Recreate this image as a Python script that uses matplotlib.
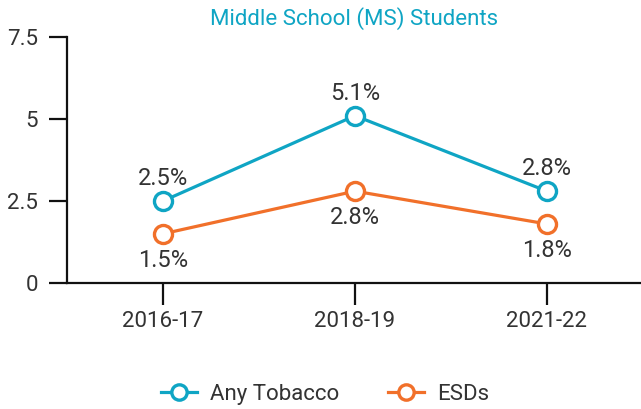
import matplotlib.pyplot as plt
import numpy as np

plt.rcParams['font.family'] = ['Roboto', 'DejaVu Sans']

years = ['2016-17', '2018-19', '2021-22']
any_tobacco = [2.5, 5.1, 2.8]
esds = [1.5, 2.8, 1.8]
yticks = [0, 2.5, 5, 7.5]
ytick_labels = ['0', '2.5', '5', '7.5']

teal = '#0fa5c4'
orange = '#f1702a'
txt = '#333333'

fig = plt.figure(figsize=(6.41, 4.09), dpi=100)
ax = fig.add_axes([67 / 641, 126 / 409, 574 / 641, 246 / 409])

x = np.arange(len(years))
ax.plot(x, any_tobacco, color=teal, lw=2.3, marker='o', ms=13, mfc='white',
        mec=teal, mew=2.4, label='Any Tobacco', zorder=3, clip_on=False)
ax.plot(x, esds, color=orange, lw=2.3, marker='o', ms=13, mfc='white',
        mec=orange, mew=2.4, label='ESDs', zorder=3, clip_on=False)

for i, v in enumerate(any_tobacco):
    ax.annotate(f'{v}%', (x[i], v), xytext=(0, 8), textcoords='offset points',
                ha='center', va='bottom', fontsize=17, color=txt)
for i, v in enumerate(esds):
    ax.annotate(f'{v}%', (x[i], v), xytext=(0, -11), textcoords='offset points',
                ha='center', va='top', fontsize=17, color=txt)

ax.set_xlim(-0.5, 2.49)
ax.set_ylim(0, 7.5)
ax.set_xticks(x)
ax.set_xticklabels(years)
ax.set_yticks(yticks)
ax.set_yticklabels(ytick_labels)

for s in ['top', 'right']:
    ax.spines[s].set_visible(False)
for s in ['left', 'bottom']:
    ax.spines[s].set_linewidth(1.6)
    ax.spines[s].set_color('#111111')

ax.tick_params(axis='y', length=13, width=1.6, pad=8, labelsize=16,
               labelcolor=txt, color='#111111')
ax.tick_params(axis='x', length=16, width=1.6, pad=4, labelsize=16,
               labelcolor=txt, color='#111111')

ax.set_title('Middle School (MS) Students', color=teal, fontsize=16, pad=9)

leg = ax.legend(loc='upper center', bbox_to_anchor=(0.45, -0.33), ncol=2,
                frameon=False, fontsize=16, handlelength=1.6, columnspacing=2.2,
                handletextpad=0.6, labelcolor=txt, markerscale=0.85)

fig.savefig('out.png', dpi=100)
